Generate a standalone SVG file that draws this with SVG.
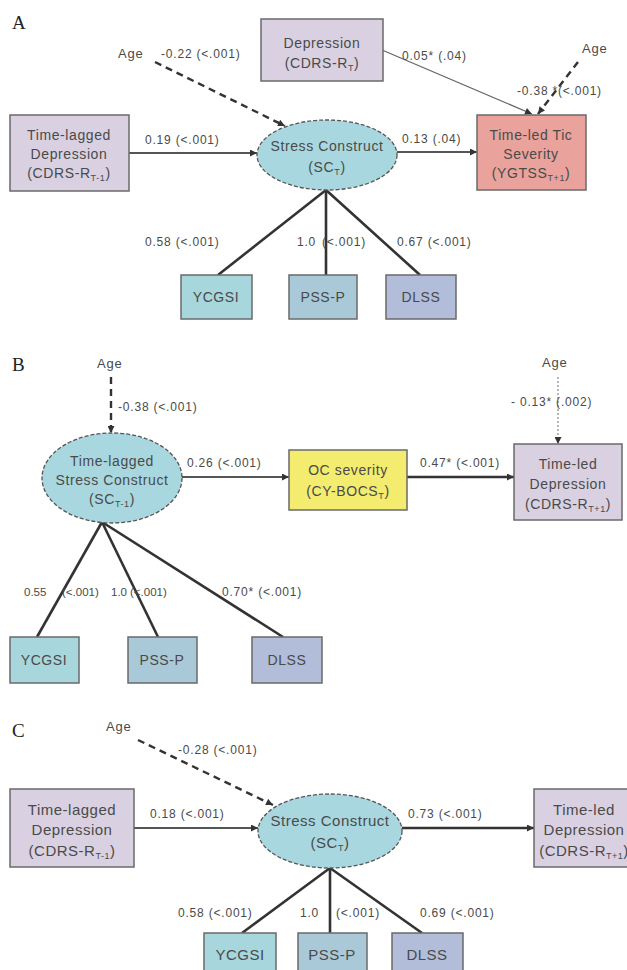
<svg xmlns="http://www.w3.org/2000/svg" width="627" height="970" viewBox="0 0 627 970">
<style>
.t{font-family:"Liberation Sans",Arial,sans-serif;fill:#4a4a4a}
.bx{font-size:14px;letter-spacing:0.6px;text-anchor:middle}
.bxc{font-size:15px;letter-spacing:0.5px;text-anchor:middle}
.lb{font-size:12px;letter-spacing:0.8px}
.lb .sm{font-size:11.5px;letter-spacing:0px}
.pn{font-family:"Liberation Serif","Times New Roman",serif;font-size:19px;fill:#222}
.pur{fill:#d9d1e1;stroke:#6a6a6a;stroke-width:1.5}
.ell{fill:#a9d7df;stroke:#555;stroke-width:1.3;stroke-dasharray:4 2}
.tic{fill:#e9a39c;stroke:#6a6a6a;stroke-width:1.5}
.oc{fill:#f3ec6f;stroke:#6a6a6a;stroke-width:1.5}
.yc{fill:#a7d6dc;stroke:#6a6a6a;stroke-width:1.5}
.ps{fill:#a9c9d8;stroke:#6a6a6a;stroke-width:1.5}
.dl{fill:#b1bdd9;stroke:#6a6a6a;stroke-width:1.5}
.ln{fill:none;stroke:#555;stroke-width:2}
.thin{fill:none;stroke:#666;stroke-width:1.2}
.thk{fill:none;stroke:#333;stroke-width:2.6}
.dsh{fill:none;stroke:#333;stroke-width:2.4;stroke-dasharray:7 5}
.dot{fill:none;stroke:#888;stroke-width:1.2;stroke-dasharray:2 2}
.sub{font-size:9px}
</style>
<defs>
<marker id="ar" viewBox="0 0 10 10" refX="10" refY="5" markerWidth="8" markerHeight="7" markerUnits="userSpaceOnUse" orient="auto">
<path d="M0,0 L10,5 L0,10 z" fill="#333"/>
</marker>
</defs>

<text class="pn" x="12" y="29">A</text>
<text class="pn" x="12" y="371">B</text>
<text class="pn" x="12" y="737">C</text>

<g id="connectors">
<line class="ln" x1="129" y1="153" x2="257" y2="153" marker-end="url(#ar)"/>
<line class="ln" x1="397" y1="152" x2="477" y2="152" stroke="#777" marker-end="url(#ar)"/>
<line class="thin" x1="382" y1="50" x2="532" y2="114" marker-end="url(#ar)"/>
<line class="dsh" x1="155" y1="62" x2="285" y2="126" marker-end="url(#ar)"/>
<line class="dsh" x1="578" y1="62" x2="538" y2="114" marker-end="url(#ar)"/>
<line class="thk" x1="326" y1="190" x2="218" y2="275"/>
<line class="thk" x1="326" y1="190" x2="326" y2="275"/>
<line class="thk" x1="326" y1="190" x2="420" y2="275"/>
<line class="dsh" x1="111" y1="377" x2="111" y2="433" marker-end="url(#ar)"/>
<line class="ln" x1="182" y1="477" x2="289" y2="477" marker-end="url(#ar)"/>
<line class="thk" x1="407" y1="477" x2="514" y2="477" marker-end="url(#ar)"/>
<line class="dot" x1="558" y1="377" x2="558" y2="444" marker-end="url(#ar)"/>
<line class="thk" x1="102" y1="522" x2="37" y2="637"/>
<line class="thk" x1="102" y1="522" x2="158" y2="637"/>
<line class="thk" x1="102" y1="522" x2="283" y2="637"/>
<line class="dsh" x1="138" y1="740" x2="273" y2="805" marker-end="url(#ar)"/>
<line class="ln" x1="134" y1="828" x2="258" y2="828" marker-end="url(#ar)"/>
<line class="thk" x1="402" y1="828" x2="534" y2="828" marker-end="url(#ar)"/>
<line class="thk" x1="330" y1="868" x2="242" y2="933"/>
<line class="thk" x1="330" y1="868" x2="330" y2="933"/>
<line class="thk" x1="330" y1="868" x2="422" y2="933"/>
</g>

<g id="labels" class="t lb">
<text x="118" y="58" font-size="13">Age</text>
<text x="161" y="58">-0.22  (&lt;.001)</text>
<text x="402" y="60">0.05* (.04)</text>
<text x="582" y="53" font-size="13">Age</text>
<text x="517" y="95">-0.38 *(&lt;.001)</text>
<text x="145" y="144">0.19 (&lt;.001)</text>
<text x="402" y="143">0.13 (.04)</text>
<text x="145" y="246">0.58 (&lt;.001)</text>
<text x="297" y="246">1.0</text>
<text x="322" y="246">(&lt;.001)</text>
<text x="397" y="246">0.67 (&lt;.001)</text>

<text x="97" y="368" font-size="13">Age</text>
<text x="118" y="411">-0.38 (&lt;.001)</text>
<text x="187" y="467">0.26 (&lt;.001)</text>
<text x="420" y="467">0.47* (&lt;.001)</text>
<text x="542" y="367" font-size="13">Age</text>
<text x="511" y="406">- 0.13*  (.002)</text>
<text class="sm" x="24" y="596">0.55</text>
<text class="sm" x="62" y="596">(&lt;.001)</text>
<text class="sm" x="111" y="596">1.0</text>
<text class="sm" x="130" y="596">(&lt;.001)</text>
<text x="222" y="596">0.70* (&lt;.001)</text>

<text x="106" y="731" font-size="13">Age</text>
<text x="178" y="754">-0.28 (&lt;.001)</text>
<text x="150" y="818">0.18 (&lt;.001)</text>
<text x="408" y="818">0.73 (&lt;.001)</text>
<text x="178" y="917">0.58 (&lt;.001)</text>
<text x="300" y="917">1.0</text>
<text x="336" y="917">(&lt;.001)</text>
<text x="420" y="917">0.69 (&lt;.001)</text>
</g>

<g id="a-depression">
<rect class="pur" x="261" y="19" width="122" height="62"/>
<text class="t bx" x="322" y="48">Depression</text>
<text class="t bx" x="322" y="68">(CDRS-R<tspan class="sub" dy="3">T</tspan><tspan dy="-3">)</tspan></text>
</g>
<g id="a-lagged-depression">
<rect class="pur" x="10" y="115" width="119" height="76"/>
<text class="t bx" x="69" y="140">Time-lagged</text>
<text class="t bx" x="69" y="159">Depression</text>
<text class="t bx" x="69" y="178">(CDRS-R<tspan class="sub" dy="3">T-1</tspan><tspan dy="-3">)</tspan></text>
</g>
<g id="a-stress">
<ellipse class="ell" cx="327" cy="155" rx="70" ry="35"/>
<text class="t bx" x="327" y="151">Stress Construct</text>
<text class="t bx" x="327" y="172">(SC<tspan class="sub" dy="3">T</tspan><tspan dy="-3">)</tspan></text>
</g>
<g id="a-tic">
<rect class="tic" x="477" y="115" width="109" height="75"/>
<text class="t bx" x="531" y="140">Time-led Tic</text>
<text class="t bx" x="531" y="159">Severity</text>
<text class="t bx" x="531" y="178">(YGTSS<tspan class="sub" dy="3">T+1</tspan><tspan dy="-3">)</tspan></text>
</g>
<g id="a-ycgsi"><rect class="yc" x="181" y="275" width="71" height="44"/><text class="t bx" x="216" y="302">YCGSI</text></g>
<g id="a-pssp"><rect class="ps" x="289" y="275" width="68" height="44"/><text class="t bx" x="323" y="302">PSS-P</text></g>
<g id="a-dlss"><rect class="dl" x="386" y="275" width="70" height="44"/><text class="t bx" x="421" y="302">DLSS</text></g>

<g id="b-stress">
<ellipse class="ell" cx="112" cy="478" rx="70" ry="45"/>
<text class="t bx" x="112" y="466">Time-lagged</text>
<text class="t bx" x="112" y="485">Stress Construct</text>
<text class="t bx" x="112" y="504">(SC<tspan class="sub" dy="3">T-1</tspan><tspan dy="-3">)</tspan></text>
</g>
<g id="b-oc">
<rect class="oc" x="289" y="450" width="118" height="60"/>
<text class="t bx" x="348" y="475">OC severity</text>
<text class="t bx" x="348" y="496">(CY-BOCS<tspan class="sub" dy="3">T</tspan><tspan dy="-3">)</tspan></text>
</g>
<g id="b-led-depression">
<rect class="pur" x="514" y="444" width="108" height="76"/>
<text class="t bx" x="568" y="469">Time-led</text>
<text class="t bx" x="568" y="489">Depression</text>
<text class="t bx" x="568" y="509">(CDRS-R<tspan class="sub" dy="3">T+1</tspan><tspan dy="-3">)</tspan></text>
</g>
<g id="b-ycgsi"><rect class="yc" x="10" y="637" width="69" height="46"/><text class="t bx" x="44" y="665">YCGSI</text></g>
<g id="b-pssp"><rect class="ps" x="128" y="637" width="69" height="46"/><text class="t bx" x="162" y="665">PSS-P</text></g>
<g id="b-dlss"><rect class="dl" x="252" y="637" width="70" height="46"/><text class="t bx" x="287" y="665">DLSS</text></g>

<g id="c-lagged-depression">
<rect class="pur" x="10" y="789" width="124" height="78"/>
<text class="t bxc" x="72" y="815">Time-lagged</text>
<text class="t bxc" x="72" y="835">Depression</text>
<text class="t bxc" x="72" y="856">(CDRS-R<tspan class="sub" dy="3">T-1</tspan><tspan dy="-3">)</tspan></text>
</g>
<g id="c-stress">
<ellipse class="ell" cx="330" cy="831" rx="72" ry="37"/>
<text class="t bxc" x="330" y="826">Stress Construct</text>
<text class="t bxc" x="330" y="848">(SC<tspan class="sub" dy="3">T</tspan><tspan dy="-3">)</tspan></text>
</g>
<g id="c-led-depression">
<rect class="pur" x="534" y="789" width="110" height="78"/>
<text class="t bxc" x="584" y="815">Time-led</text>
<text class="t bxc" x="584" y="835">Depression</text>
<text class="t bxc" x="584" y="856">(CDRS-R<tspan class="sub" dy="3">T+1</tspan><tspan dy="-3">)</tspan></text>
</g>
<g id="c-ycgsi"><rect class="yc" x="204" y="933" width="72" height="40"/><text class="t bxc" x="240" y="960">YCGSI</text></g>
<g id="c-pssp"><rect class="ps" x="298" y="933" width="69" height="40"/><text class="t bxc" x="332" y="960">PSS-P</text></g>
<g id="c-dlss"><rect class="dl" x="392" y="933" width="71" height="40"/><text class="t bxc" x="427" y="960">DLSS</text></g>
</svg>
